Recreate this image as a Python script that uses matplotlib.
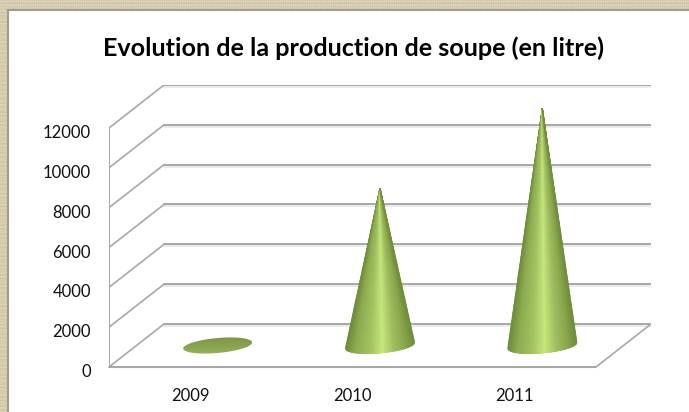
import numpy as np
import matplotlib
matplotlib.use("Agg")
import matplotlib.pyplot as plt
from matplotlib.colors import LinearSegmentedColormap
from matplotlib.patches import Polygon, Rectangle
from matplotlib.transforms import ScaledTranslation

# ---- data ----
years = ["2009", "2010", "2011"]
production = [50, 7900, 11900]
y_ticks = [0, 2000, 4000, 6000, 8000, 10000, 12000]
title = "Evolution de la production de soupe (en litre)"

W, H = 689, 412
plt.rcParams["font.family"] = ["Lato", "DejaVu Sans"]
fig = plt.figure(figsize=(W / 100, H / 100), dpi=100)

# ---- parchment background (deterministic texture) + white panel ----
bg = fig.add_axes([0, 0, 1, 1])
yy, xx = np.mgrid[0:H, 0:W]
tex = (np.sin(yy * 1.7) * np.sin(yy * 0.31 + 1) * 0.7
       + np.sin(xx * 0.9 + yy * 2.3) * 0.35
       + np.sin(xx * 2.9 + 0.7 * np.sin(yy * 0.2)) * 0.35)
base = np.array([0.84, 0.80, 0.69])
bg.imshow(np.clip(base[None, None, :] + tex[..., None] * 0.045, 0, 1),
          extent=(0, W, H, 0), aspect="auto", interpolation="bilinear")
bg.add_patch(Rectangle((8, 9.5), W, H, fc="white", ec="#a09d90", lw=1.5))
bg.set_xlim(0, W); bg.set_ylim(H, 0); bg.axis("off")

# ---- plot axes: category/value scales, with the 3-D depth added to each limit ----
L, R_front, R_back, Y0, Y12 = 109, 596, 651, 367, 128
DEPTH_PX, RISE_PX = R_back - R_front, 43
top_px = Y12 - RISE_PX
ax = fig.add_axes([L / W, 1 - Y0 / H, (R_back - L) / W, (Y0 - top_px) / H])
ax.patch.set_alpha(0)
cat_px = (R_front - L) / len(years)
val_px = y_ticks[-1] / (Y0 - Y12)
dx, dy = DEPTH_PX / cat_px, RISE_PX * val_px
x0, x1 = -0.5, len(years) - 0.5

for s in ax.spines.values():
    s.set_visible(False)

line = dict(solid_capstyle="round", zorder=2)
shadow = dict(color="#ebebeb", lw=2.2, zorder=1, solid_capstyle="round")
grey = "#a8a8a8"
for v in y_ticks:
    ax.plot([x0 + dx, x1 + dx], [v + dy, v + dy], color=grey, lw=1.4, **line)
    ax.plot([x0 + dx, x1 + dx], [v + dy - 0.9 * val_px] * 2, **shadow)
    ax.plot([x0, x0 + dx], [v, v + dy], color=grey, lw=1.2, **line)
ax.plot([x0, x0], [0, y_ticks[-1]], color=grey, lw=1.5, **line)
ax.plot([x0, x1], [0, 0], color=grey, lw=1.5, clip_on=False, **line)
ax.plot([x1, x1 + dx], [0, dy], color=grey, lw=1.2, **line)

# ---- cones ----
cone_cmap = LinearSegmentedColormap.from_list(
    "cone", [(0, "#6f8d3a"), (0.14, "#8eac50"), (0.35, "#a3c263"), (0.54, "#c6e87c"),
             (0.72, "#9fbd60"), (0.88, "#8aa74c"), (1, "#708e3b")])
disc_cmap = LinearSegmentedColormap.from_list("disc", ["#789342", "#9ab55e"])
a = 34.5 / cat_px          # base half width
b = 7.5 * val_px           # base half height
tilt = 3.0 * val_px        # base slant

for i, v in enumerate(production):
    cx, cy = i + dx / 2, dy / 2
    if v < 200:   # flat disc: the cone is too short to be seen
        t = np.linspace(0, 2 * np.pi, 120)
        ex, ey = cx + a * np.cos(t), cy + b * np.sin(t) + tilt * np.cos(t)
        img = ax.imshow(np.linspace(1, 0, 64)[:, None], cmap=disc_cmap, aspect="auto",
                        extent=(cx - a, cx + a, cy - b - tilt, cy + b + tilt),
                        origin="lower", zorder=5)
        img.set_clip_path(Polygon(np.c_[ex, ey], transform=ax.transData))
    else:
        u = np.linspace(-1, 1, 81)
        h = np.linspace(0, 1, 61)
        U, Hh = np.meshgrid(u, h)
        base_y = cy - b * np.sqrt(1 - U ** 2) + tilt * U
        X = cx + U * a * (1 - Hh)
        Y = base_y * (1 - Hh) + (cy + v) * Hh
        ax.pcolormesh(X, Y, (U + 1) / 2, cmap=cone_cmap, vmin=0, vmax=1,
                      shading="gouraud", zorder=5)

ax.set_xlim(x0, x1 + dx)
ax.set_ylim(0, y_ticks[-1] + dy)

# ---- tick labels ----
ax.set_xticks(range(len(years)), years)
ax.set_yticks(y_ticks, [str(v) for v in y_ticks])
ax.tick_params(length=0, labelsize=12, labelcolor="#111111")
ax.tick_params(axis="y", pad=13)
ax.tick_params(axis="x", pad=15)
shift = ScaledTranslation(0, -3.5 / 100, fig.dpi_scale_trans)
for lab in ax.get_yticklabels():
    lab.set_transform(lab.get_transform() + shift)

fig.text(353.5 / W, 1 - 48 / H, title, ha="center", va="center",
         fontsize=18.1, fontweight="bold", color="black")

fig.savefig("out.png", dpi=100)
